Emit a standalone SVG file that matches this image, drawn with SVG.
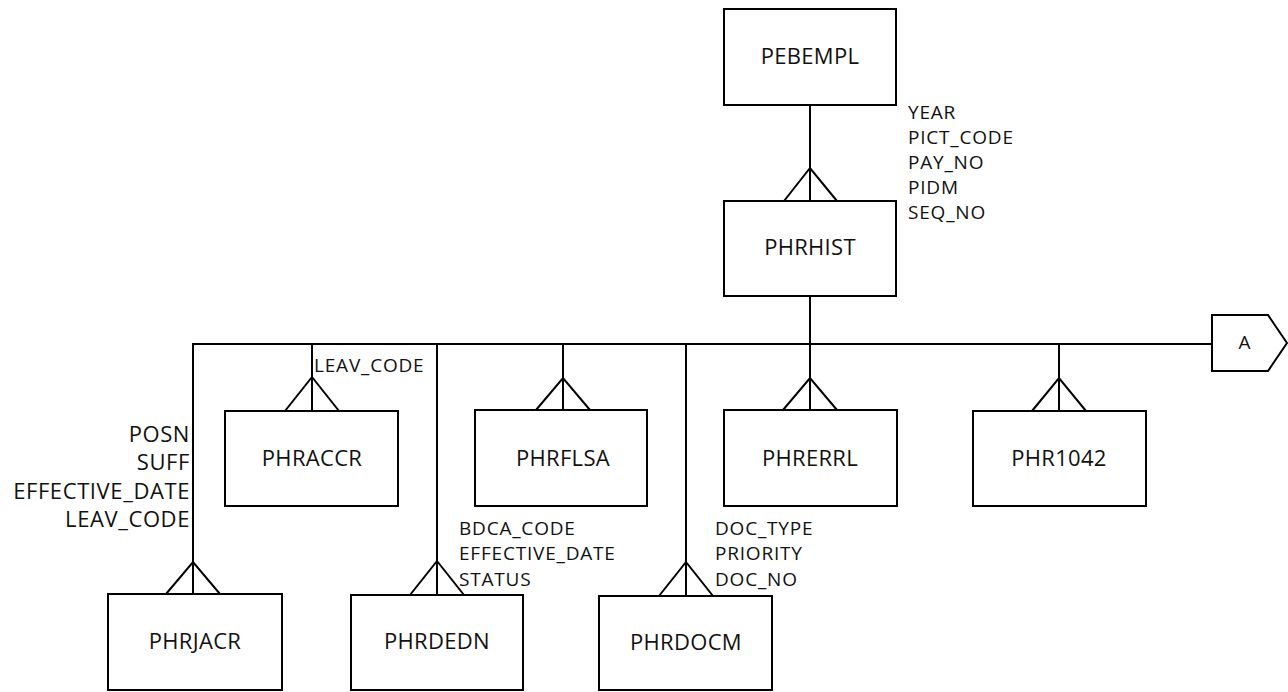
<svg xmlns="http://www.w3.org/2000/svg" width="1288" height="692" viewBox="0 0 1288 692">
  <style>
    .box { fill: #fff; stroke: #000; stroke-width: 2; }
    .ln { fill: none; stroke: #000; stroke-width: 2; stroke-linejoin: miter; }
    .name { font-family: "Open Sans", "Liberation Sans", sans-serif; font-size: 22px; letter-spacing: 0.3px; fill: #111; text-anchor: middle; }
    .key { font-family: "Open Sans", "Liberation Sans", sans-serif; font-size: 19px; letter-spacing: 0.8px; fill: #111; }
    .keyL { font-family: "Open Sans", "Liberation Sans", sans-serif; font-size: 22px; letter-spacing: 0.6px; fill: #111; text-anchor: end; }
  </style>
  <rect width="1288" height="692" fill="#fff"/>

  <!-- relationships: bus, branches and crow's feet -->
  <g id="connectors">
    <path class="ln" d="M810 105 V201"/>
    <path class="ln" d="M784 201 L810 168 L837 201"/>
    <path class="ln" d="M810 296 V344"/>
    <path class="ln" d="M193 594 V344 H1212"/>
    <path class="ln" d="M166 594 L193 562 L220 594"/>
    <path class="ln" d="M312 344 V411"/>
    <path class="ln" d="M285 411 L312 377 L339 411"/>
    <path class="ln" d="M437 344 V595"/>
    <path class="ln" d="M410 595 L437 561 L464 595"/>
    <path class="ln" d="M563 344 V410"/>
    <path class="ln" d="M536 410 L563 378 L590 410"/>
    <path class="ln" d="M686 344 V596"/>
    <path class="ln" d="M659 596 L686 562 L713 596"/>
    <path class="ln" d="M810 344 V410"/>
    <path class="ln" d="M783 410 L810 378 L837 410"/>
    <path class="ln" d="M1059 344 V411"/>
    <path class="ln" d="M1032 411 L1059 378 L1086 411"/>
  </g>

  <!-- key column labels -->
  <g id="keys">
    <text class="key" x="908" y="119">YEAR</text>
    <text class="key" x="908" y="144">PICT_CODE</text>
    <text class="key" x="908" y="169">PAY_NO</text>
    <text class="key" x="908" y="194">PIDM</text>
    <text class="key" x="908" y="219">SEQ_NO</text>
    <text class="key" x="314" y="372">LEAV_CODE</text>
    <text class="keyL" x="190" y="442">POSN</text>
    <text class="keyL" x="190" y="470">SUFF</text>
    <text class="keyL" x="190" y="499">EFFECTIVE_DATE</text>
    <text class="keyL" x="190" y="527">LEAV_CODE</text>
    <text class="key" x="459" y="535">BDCA_CODE</text>
    <text class="key" x="459" y="560">EFFECTIVE_DATE</text>
    <text class="key" x="459" y="586">STATUS</text>
    <text class="key" x="715" y="535">DOC_TYPE</text>
    <text class="key" x="715" y="560">PRIORITY</text>
    <text class="key" x="715" y="586">DOC_NO</text>
  </g>

  <g id="PEBEMPL">
    <rect class="box" x="724" y="9" width="172" height="96"/>
    <text class="name" x="810" y="64">PEBEMPL</text>
  </g>
  <g id="PHRHIST">
    <rect class="box" x="724" y="201" width="172" height="95"/>
    <text class="name" x="810" y="255">PHRHIST</text>
  </g>
  <g id="PHRACCR">
    <rect class="box" x="225" y="411" width="173" height="95"/>
    <text class="name" x="312" y="466">PHRACCR</text>
  </g>
  <g id="PHRFLSA">
    <rect class="box" x="475" y="410" width="172" height="96"/>
    <text class="name" x="563" y="466">PHRFLSA</text>
  </g>
  <g id="PHRERRL">
    <rect class="box" x="724" y="410" width="173" height="96"/>
    <text class="name" x="810" y="466">PHRERRL</text>
  </g>
  <g id="PHR1042">
    <rect class="box" x="973" y="411" width="173" height="95"/>
    <text class="name" x="1059" y="466">PHR1042</text>
  </g>
  <g id="PHRJACR">
    <rect class="box" x="108" y="594" width="174" height="96"/>
    <text class="name" x="195" y="649">PHRJACR</text>
  </g>
  <g id="PHRDEDN">
    <rect class="box" x="351" y="595" width="172" height="95"/>
    <text class="name" x="437" y="649">PHRDEDN</text>
  </g>
  <g id="PHRDOCM">
    <rect class="box" x="599" y="596" width="173" height="94"/>
    <text class="name" x="686" y="650">PHRDOCM</text>
  </g>
  <g id="offpage-A">
    <path class="box" d="M1212 315 H1268 L1287 343 L1268 371 H1212 Z"/>
    <text class="key" x="1245" y="349" text-anchor="middle">A</text>
  </g>
</svg>
